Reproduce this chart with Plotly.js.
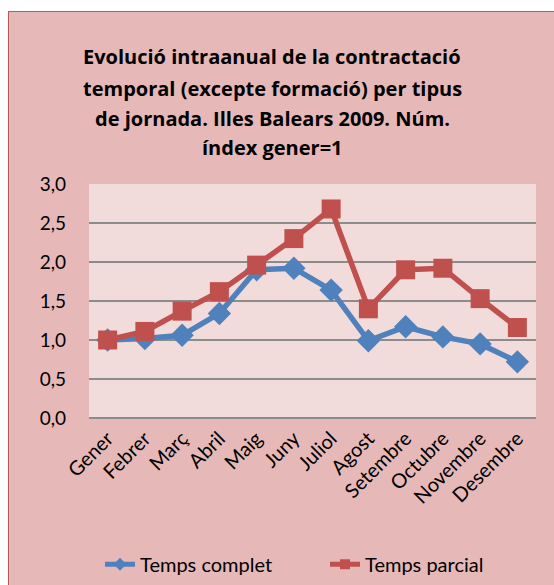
<!DOCTYPE html>
<html>
<head>
<meta charset="utf-8">
<script src="https://cdn.plot.ly/plotly-3.0.1.min.js"></script>
<style>
  html, body { margin: 0; padding: 0; background: #ffffff; overflow: hidden; }
  #frame { position: absolute; left: 8px; top: 11px; width: 546px; height: 574px;
           border-left: 1.5px solid #B65A57; border-top: 1.5px solid #B65A57; background: #E6B9B8; }
  #chart { width: 545px; height: 573px; }
</style>
</head>
<body>
<div id="frame"><div id="chart"></div></div>
<script>
const months = ["Gener","Febrer","Març","Abril","Maig","Juny","Juliol","Agost","Setembre","Octubre","Novembre","Desembre"];
const tempsComplet = [1.00, 1.02, 1.06, 1.34, 1.90, 1.92, 1.64, 0.99, 1.17, 1.04, 0.95, 0.72];
const tempsParcial = [1.00, 1.11, 1.37, 1.62, 1.96, 2.30, 2.68, 1.40, 1.90, 1.92, 1.53, 1.16];
const seriesNames = ["Temps complet", "Temps parcial"];
const titleLines = [
  "Evolució intraanual de la contractació",
  "temporal (excepte formació) per tipus",
  "de jornada. Illes Balears 2009. Núm.",
  "índex gener=1"
];
const yTicks = [0, 0.5, 1, 1.5, 2, 2.5, 3];

const fontFam = "Lato, Open Sans, sans-serif";
const titleFam = "Open Sans, Lato, sans-serif";
const blue = "#4F81BD", red = "#C0504D";

const traces = [
  {
    x: months, y: tempsComplet, name: seriesNames[0], type: "scatter", mode: "lines+markers",
    line: { color: blue, width: 5.5 }, showlegend: false,
    marker: { symbol: "diamond", size: 18, color: blue }
  },
  {
    x: months, y: tempsParcial, name: seriesNames[1], type: "scatter", mode: "lines+markers",
    line: { color: red, width: 5.5 }, showlegend: false,
    marker: { symbol: "square", size: 19, color: red }
  },
  // legend-only entries (no data points), with smaller legend symbols
  { x: [null], y: [null], name: seriesNames[0], type: "scatter", mode: "lines+markers",
    line: { color: blue, width: 5 }, marker: { symbol: "diamond", size: 10, color: blue } },
  { x: [null], y: [null], name: seriesNames[1], type: "scatter", mode: "lines+markers",
    line: { color: red, width: 5 }, marker: { symbol: "square", size: 10, color: red } }
];

const titleY = [44, 76, 106, 135];
const titleCenterX = 0.41;
const annotations = titleLines.map((t, i) => ({
  text: "<b>" + t + "</b>", xref: "paper", yref: "paper",
  x: titleCenterX, y: 1 + (172 - titleY[i]) / 234, xanchor: "center", yanchor: "middle",
  showarrow: false, font: { family: titleFam, size: 20, color: "#000000" }
}));

const layout = {
  width: 545, height: 573,
  margin: { l: 80, r: 18, t: 172, b: 167 },
  paper_bgcolor: "#E6B9B8",
  plot_bgcolor: "#F2DCDB",
  separators: ", ",
  showlegend: true,
  legend: {
    orientation: "h", xref: "container", yref: "container",
    x: 0.167, xanchor: "left", y: 0.036, yanchor: "middle",
    font: { family: fontFam, size: 20, color: "#000000" }, bgcolor: "rgba(0,0,0,0)",
    itemwidth: 30, entrywidth: 180, entrywidthmode: "pixels"
  },
  xaxis: {
    type: "category", range: [-0.5, 11.5], tickangle: -45, showgrid: false,
    showline: false, zeroline: false, ticks: "", ticklabelstandoff: 4,
    tickfont: { family: fontFam, size: 20, color: "#000000" }
  },
  yaxis: {
    range: [0, 3], tickvals: yTicks, tickformat: ".1f",
    showgrid: true, gridcolor: "#8C8C8C", gridwidth: 1.2,
    zeroline: true, zerolinecolor: "#8C8C8C", zerolinewidth: 1.2,
    showline: false, ticks: "", ticklabelstandoff: 22,
    tickfont: { family: fontFam, size: 19, color: "#000000" }
  },
  annotations: annotations
};

Plotly.newPlot("chart", traces, layout, { displayModeBar: false, staticPlot: true });
</script>
</body>
</html>
